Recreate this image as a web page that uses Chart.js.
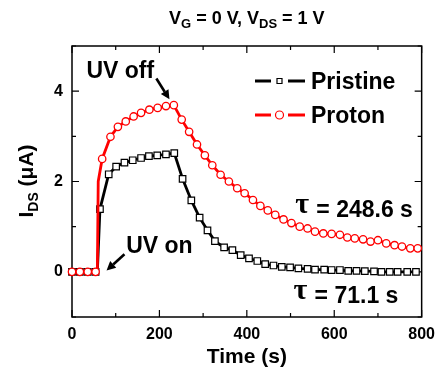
<!DOCTYPE html>
<html>
<head>
<meta charset="utf-8">
<script src="https://cdn.jsdelivr.net/npm/chart.js@4.4.0/dist/chart.umd.min.js"></script>
<style>
  html, body { margin: 0; padding: 0; background: #fff; }
</style>
</head>
<body>
<canvas id="photoChart" width="443" height="375"></canvas>
<script>
const timeTicks = [0, 200, 400, 600, 800];
const currentTicks = [0, 2, 4];

// points that only carry the line (no marker drawn)
const lineOnlyT = [58, 60];

const pristineT = [0, 18, 36, 54, 58, 64, 84, 101, 120, 139, 158, 176, 195, 215, 234,
  253, 273, 292, 310, 327, 348, 367, 386, 405, 424, 442, 461, 480, 499, 518, 539,
  556, 577, 594, 613, 632, 651, 670, 691, 708, 727, 745, 767, 787];
const pristineI = [0, 0, 0, 0, 0, 1.39, 2.16, 2.33, 2.42, 2.47, 2.52, 2.56, 2.58, 2.60, 2.63,
  2.06, 1.58, 1.20, 0.92, 0.68, 0.54, 0.48, 0.37, 0.30, 0.24, 0.17, 0.14, 0.11, 0.10, 0.075, 0.067,
  0.05, 0.05, 0.04, 0.04, 0.02, 0.02, 0.015, 0.01, 0, 0, 0, 0, 0];

const protonT = [0, 18, 36, 54, 58, 60, 69, 88, 105, 123, 141, 158, 177, 196, 215, 233,
  251, 268, 286, 304, 321, 340, 359, 378, 395, 414, 431, 448, 465, 484, 502, 521,
  539, 556, 575, 594, 613, 630, 647, 666, 683, 700, 719, 738, 755, 774, 791];
const protonI = [0, 0, 0, 0, 0, 2.0, 2.5, 2.99, 3.21, 3.33, 3.44, 3.52, 3.59, 3.63, 3.67, 3.69,
  3.37, 3.10, 2.82, 2.58, 2.36, 2.15, 2.00, 1.85, 1.74, 1.59, 1.46, 1.36, 1.26, 1.16, 1.08, 1.00,
  0.96, 0.89, 0.85, 0.84, 0.82, 0.76, 0.74, 0.72, 0.67, 0.70, 0.63, 0.59, 0.56, 0.52, 0.52];

const FONT = '"Liberation Sans", Arial, Helvetica, sans-serif';
const toPoints = (xs, ys) => xs.map((x, i) => ({ x, y: ys[i] }));
const markerRadius = (r) => (ctx) => (ctx.raw && lineOnlyT.includes(ctx.raw.x) ? 0 : r);

// draws mixed normal/subscript text; parts = [text, size, dy]
function richText(ctx, parts, x, y, align) {
  let total = 0;
  parts.forEach(([t, s]) => { ctx.font = `bold ${s}px ${FONT}`; total += ctx.measureText(t).width; });
  let cx = align === 'center' ? x - total / 2 : x;
  parts.forEach(([t, s, dy]) => {
    ctx.font = `bold ${s}px ${FONT}`;
    ctx.fillText(t, cx, y + dy);
    cx += ctx.measureText(t).width;
  });
}

function arrow(ctx, x1, y1, x2, y2) {
  const a = Math.atan2(y2 - y1, x2 - x1);
  const L = 9, W = 4.5;
  const bx = x2 - L * Math.cos(a), by = y2 - L * Math.sin(a);
  ctx.beginPath();
  ctx.moveTo(x1, y1);
  ctx.lineTo(bx, by);
  ctx.lineWidth = 2.6;
  ctx.stroke();
  ctx.beginPath();
  ctx.moveTo(x2, y2);
  ctx.lineTo(bx + W * Math.sin(a), by - W * Math.cos(a));
  ctx.lineTo(bx - W * Math.sin(a), by + W * Math.cos(a));
  ctx.closePath();
  ctx.fill();
}

const framePlugin = {
  id: 'frame',
  beforeDatasetsDraw(chart) {
    const { ctx, chartArea: a, scales: { x, y } } = chart;
    ctx.save();
    ctx.strokeStyle = '#000';
    ctx.lineWidth = 1.5;
    ctx.strokeRect(a.left, a.top, a.right - a.left, a.bottom - a.top);
    ctx.lineWidth = 1.2;
    ctx.beginPath();
    for (let v = x.min; v <= x.max; v += 100) {
      const px = x.getPixelForValue(v);
      const len = timeTicks.includes(v) ? 7 : 4;
      ctx.moveTo(px, a.bottom); ctx.lineTo(px, a.bottom - len);
      ctx.moveTo(px, a.top); ctx.lineTo(px, a.top + len);
    }
    for (let v = y.min; v <= y.max; v += 1) {
      const py = y.getPixelForValue(v);
      const len = currentTicks.includes(v) ? 7 : 4;
      ctx.moveTo(a.left, py); ctx.lineTo(a.left + len, py);
      ctx.moveTo(a.right, py); ctx.lineTo(a.right - len, py);
    }
    ctx.stroke();
    ctx.restore();
  },
  afterDraw(chart) {
    const { ctx, chartArea: a, scales: { x, y } } = chart;
    ctx.save();
    ctx.fillStyle = '#000';
    ctx.strokeStyle = '#000';
    ctx.textBaseline = 'alphabetic';
    ctx.textAlign = 'left';

    // title
    richText(ctx, [['V', 18, 0], ['G', 13, 4], [' = 0 V, V', 18, 0], ['DS', 13, 4], [' = 1 V', 18, 0]],
      (a.left + a.right) / 2, 24, 'center');

    // axis titles
    ctx.font = `bold 21px ${FONT}`;
    ctx.textAlign = 'center';
    ctx.fillText('Time (s)', (a.left + a.right) / 2, 363);
    ctx.save();
    ctx.translate(33, 181);
    ctx.rotate(-Math.PI / 2);
    ctx.textAlign = 'left';
    richText(ctx, [['I', 21, 0], ['DS', 14, 5], [' (\u03bcA)', 21, 0]], 0, 0, 'center');
    ctx.restore();

    // annotations
    ctx.textAlign = 'left';
    ctx.font = `bold 23px ${FONT}`;
    ctx.fillText('UV off', x.getPixelForValue(33), y.getPixelForValue(4.30));
    ctx.fillText('UV on', x.getPixelForValue(124), y.getPixelForValue(0.41));
    arrow(ctx, x.getPixelForValue(193), y.getPixelForValue(4.28), x.getPixelForValue(223), y.getPixelForValue(3.82));
    arrow(ctx, x.getPixelForValue(120), y.getPixelForValue(0.39), x.getPixelForValue(79), y.getPixelForValue(0.03));

    const taus = [['= 248.6 s', 511, 1.22], ['= 71.1 s', 507, -0.70]];
    taus.forEach(([txt, t, v]) => {
      const px = x.getPixelForValue(t), py = y.getPixelForValue(v);
      ctx.font = `bold 30px "Liberation Serif", "Times New Roman", serif`;
      ctx.fillText('\u03c4', px, py - 4);
      ctx.font = `bold 23px ${FONT}`;
      ctx.fillText(txt, px + 21, py);
    });

    // legend
    const rows = [chart.data.datasets[1], chart.data.datasets[0]];
    rows.forEach((ds, i) => {
      const cy = 81 + i * 34;
      ctx.strokeStyle = ds.borderColor;
      ctx.lineWidth = 3;
      ctx.beginPath();
      ctx.moveTo(255, cy); ctx.lineTo(271, cy);
      ctx.moveTo(288, cy); ctx.lineTo(305, cy);
      ctx.stroke();
      ctx.lineWidth = 1.2;
      ctx.fillStyle = '#fff';
      ctx.beginPath();
      if (ds.pointStyle === 'rect') ctx.rect(279.5 - 2.5, cy - 2.5, 5, 5);
      else ctx.arc(279.5, cy, 4, 0, Math.PI * 2);
      ctx.fill();
      ctx.stroke();
      ctx.fillStyle = '#000';
      ctx.font = `bold 23px ${FONT}`;
      ctx.fillText(ds.label, 311, cy + 8);
    });
    ctx.restore();
  }
};

new Chart(document.getElementById('photoChart'), {
  type: 'line',
  data: {
    datasets: [
      {
        label: 'Proton', data: toPoints(protonT, protonI), order: 0, clip: false,
        borderColor: '#ff0000', borderWidth: 2.8, tension: 0,
        pointStyle: 'circle', pointRadius: markerRadius(3.7),
        pointBackgroundColor: '#fff', pointBorderColor: '#ff0000', pointBorderWidth: 1.3,
      },
      {
        label: 'Pristine', data: toPoints(pristineT, pristineI), order: 1, clip: false,
        borderColor: '#000', borderWidth: 2.8, tension: 0,
        pointStyle: 'rect', pointRadius: markerRadius(4.6),
        pointBackgroundColor: '#fff', pointBorderColor: '#000', pointBorderWidth: 1.2,
      },
    ],
  },
  options: {
    responsive: false,
    animation: false,
    layout: { padding: { left: 0, right: 19, top: 46, bottom: 0 } },
    plugins: { legend: { display: false }, tooltip: { enabled: false } },
    scales: {
      x: {
        type: 'linear', min: 0, max: 800,
        grid: { display: false, drawTicks: false }, border: { display: false },
        ticks: { color: '#000', font: { family: FONT, size: 16, weight: 'bold' }, padding: 8, maxRotation: 0 },
        afterBuildTicks: (s) => { s.ticks = timeTicks.map((v) => ({ value: v })); },
        afterFit: (s) => { s.height = 58; },
      },
      y: {
        min: -1, max: 5,
        grid: { display: false, drawTicks: false }, border: { display: false },
        ticks: { color: '#000', font: { family: FONT, size: 16, weight: 'bold' }, padding: 9 },
        afterBuildTicks: (s) => { s.ticks = currentTicks.map((v) => ({ value: v })); },
        afterFit: (s) => { s.width = 72; },
      },
    },
  },
  plugins: [framePlugin],
});
</script>
</body>
</html>
